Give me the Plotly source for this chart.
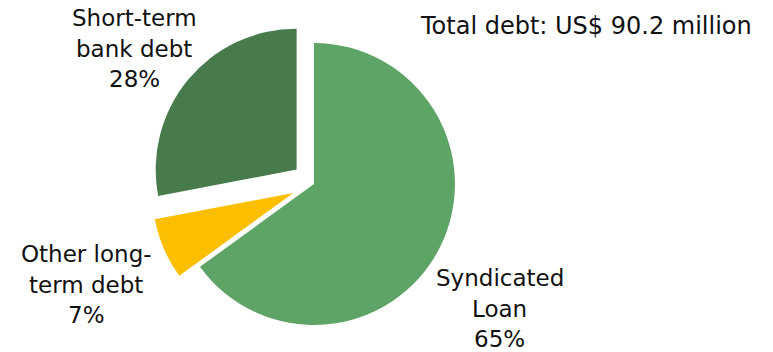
import plotly.graph_objects as go

# Debt composition (share of total, %)
categories = ["Syndicated Loan", "Other long-term debt", "Short-term bank debt"]
shares = [65, 7, 28]
label_lines = [["Syndicated", "Loan"], ["Other long-", "term debt"], ["Short-term", "bank debt"]]
colors = ["#5EA466", "#FBBF00", "#477B4C"]
pulls = [0, 0.16, 0.16]
total_text = "Total debt: US$ 90.2 million"

W, H = 773, 352
FONT = "DejaVu Sans"
FONT_SIZE = 23

fig = go.Figure(go.Pie(
    labels=categories,
    values=shares,
    sort=False,
    direction="clockwise",
    rotation=0,
    pull=pulls,
    marker=dict(colors=colors, line=dict(width=0)),
    textinfo="none",
    hoverinfo="label+percent",
    showlegend=False,
    domain=dict(x=[150.5 / W, 477.5 / W], y=[4.5 / H, 331.5 / H]),
))

# Label block anchors (centre x, first-line y) in pixels from top-left
label_pos = [(500, 278), (86, 254), (134, 18)]
line_gap = 30.5

annotations = []
for lines, share, (cx, cy) in zip(label_lines, shares, label_pos):
    for i, txt in enumerate(lines + [f"{share}%"]):
        annotations.append(dict(
            x=cx / W, y=1 - (cy + i * line_gap) / H, xref="paper", yref="paper",
            text=txt, showarrow=False, xanchor="center", yanchor="middle",
            font=dict(family=FONT, size=FONT_SIZE, color="#111111"),
        ))

annotations.append(dict(
    x=586 / W, y=1 - 26 / H, xref="paper", yref="paper",
    text=total_text, showarrow=False, xanchor="center", yanchor="middle",
    font=dict(family=FONT, size=24, color="#111111"),
))

fig.update_layout(
    width=W, height=H,
    margin=dict(l=0, r=0, t=0, b=0),
    paper_bgcolor="white",
    plot_bgcolor="white",
    annotations=annotations,
)

fig.write_html("out.html")
